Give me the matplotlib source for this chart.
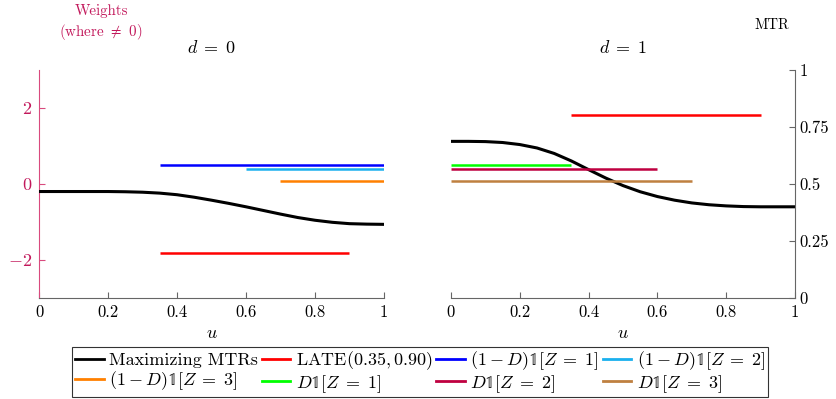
import matplotlib
matplotlib.use('Agg')
import matplotlib.pyplot as plt

plt.rcParams['font.family'] = 'serif'
plt.rcParams['font.serif'] = ['cmr10', 'DejaVu Serif']
plt.rcParams['mathtext.fontset'] = 'cm'
plt.rcParams['axes.unicode_minus'] = False

# --- data ---
u_grid = [0.0, 0.05, 0.1, 0.15, 0.2, 0.25, 0.3, 0.35, 0.4, 0.45, 0.5,
          0.55, 0.6, 0.65, 0.7, 0.75, 0.8, 0.85, 0.9, 0.95, 1.0]
mtr_d0 = [0.467, 0.467, 0.467, 0.467, 0.467, 0.466, 0.464, 0.460, 0.453, 0.442, 0.429,
          0.415, 0.400, 0.384, 0.368, 0.353, 0.341, 0.332, 0.326, 0.324, 0.323]
mtr_d1 = [0.687, 0.687, 0.686, 0.682, 0.673, 0.658, 0.634, 0.601, 0.563, 0.526, 0.493,
          0.466, 0.445, 0.429, 0.417, 0.409, 0.404, 0.401, 0.400, 0.400, 0.400]

# weight labels / colours (LATE first, then the instruments)
w_labels = [r'LATE$(0.35, 0.90)$', r'$(1-D)\mathbb{1}[Z\;=\;1]$', r'$(1-D)\mathbb{1}[Z\;=\;2]$',
            r'$(1-D)\mathbb{1}[Z\;=\;3]$', r'$D\mathbb{1}[Z\;=\;1]$', r'$D\mathbb{1}[Z\;=\;2]$',
            r'$D\mathbb{1}[Z\;=\;3]$']
w_colors = ['#ff0000', '#0000ff', '#1ab0ee', '#ff8000', '#00ff00', '#bf0040', '#bf8040']
# d = 0 segments (LATE, (1-D)1[Z=1], (1-D)1[Z=2], (1-D)1[Z=3])
w0_start = [0.35, 0.35, 0.60, 0.70]
w0_end = [0.90, 1.00, 1.00, 1.00]
w0_val = [-1.82, 0.49, 0.39, 0.09]
# d = 1 segments (LATE, D1[Z=1], D1[Z=2], D1[Z=3])
w1_start = [0.35, 0.0, 0.0, 0.0]
w1_end = [0.90, 0.35, 0.60, 0.70]
w1_val = [1.82, 0.49, 0.39, 0.09]

crimson = '#c2185b'
spine_pink = '#d94a7e'
gray = '#666666'

fig = plt.figure(figsize=(8.37, 3.99), dpi=100)
W, H = 837, 399
ax0 = fig.add_axes([39 / W, 1 - 298 / H, 345 / W, 228 / H])
ax1 = fig.add_axes([451 / W, 1 - 298 / H, 344 / W, 228 / H])

# twins: MTR scale on left panel, weights scale on right panel
ax0m = ax0.twinx()
ax1w = ax1.twinx()
for a in (ax0, ax1w):
    a.set_ylim(-3, 3)
for a in (ax0m, ax1):
    a.set_ylim(0, 1)

# d = 0
for i in range(4):
    ax0.plot([w0_start[i], w0_end[i]], [w0_val[i], w0_val[i]], color=w_colors[i], lw=1.8,
             solid_capstyle='butt')
ax0m.plot(u_grid, mtr_d0, color='black', lw=2.2)
# d = 1
idx1 = [0, 4, 5, 6]
for k, i in enumerate(idx1):
    ax1w.plot([w1_start[k], w1_end[k]], [w1_val[k], w1_val[k]], color=w_colors[i], lw=1.8,
              solid_capstyle='butt')
ax1.plot(u_grid, mtr_d1, color='black', lw=2.2)

for a in (ax0, ax1):
    a.set_xlim(0, 1)
    a.set_xticks([0, 0.2, 0.4, 0.6, 0.8, 1])
    a.set_xticklabels(['0', '0.2', '0.4', '0.6', '0.8', '1'])
    a.set_xlabel('$u$', fontsize=13, labelpad=4)
    a.tick_params(axis='x', direction='in', length=4, color=gray, labelsize=12, pad=5)
    a.spines['top'].set_visible(False)
    a.spines['bottom'].set_color(gray)

# left panel spines
ax0.spines['right'].set_visible(False)
ax0.spines['left'].set_color(spine_pink)
ax0.set_yticks([-2, 0, 2])
ax0.set_yticklabels([r'$-2$', r'$0$', r'$2$'])
ax0.tick_params(axis='y', direction='in', length=4, color=spine_pink, labelcolor=crimson,
                labelsize=13, pad=5)
for s in ax0m.spines.values():
    s.set_visible(False)
ax0m.set_yticks([])

# right panel: MTR axis on the right
ax1.spines['left'].set_visible(False)
ax1.spines['right'].set_visible(True)
ax1.spines['right'].set_color(gray)
ax1.yaxis.tick_right()
ax1.set_yticks([0, 0.25, 0.5, 0.75, 1])
ax1.set_yticklabels(['0', '0.25', '0.5', '0.75', '1'])
ax1.tick_params(axis='y', direction='in', length=4, color=gray, labelsize=12, pad=3)
for s in ax1w.spines.values():
    s.set_visible(False)
ax1w.set_yticks([])

ax0.set_title(r'$d\;=\;0$', fontsize=13, pad=12)
ax1.set_title(r'$d\;=\;1$', fontsize=13, pad=12)

fig.text(101 / W, 1 - 23 / H, 'Weights\n(where $\\neq$ 0)', color=crimson, fontsize=10.8,
         ha='center', va='center', linespacing=1.25)
fig.text(772 / W, 1 - 25 / H, 'MTR', fontsize=10.5, ha='center', va='center')

# legend, filled row by row like the original
leg_handles = [plt.Line2D([], [], color='black', lw=2)]
leg_handles += [plt.Line2D([], [], color=c, lw=2) for c in w_colors]
leg_labels = ['Maximizing MTRs'] + w_labels
order = [0, 4, 1, 5, 2, 6, 3, 7]
leg = fig.legend([leg_handles[i] for i in order], [leg_labels[i] for i in order],
                 loc='center', bbox_to_anchor=(420 / W, 1 - 372 / H),
                 ncol=4, fontsize=13, frameon=True, fancybox=False, edgecolor='black',
                 handlelength=1.6, handletextpad=0.3, columnspacing=0.2, borderpad=0.15,
                 labelspacing=0.05, borderaxespad=0)
leg.get_frame().set_linewidth(0.8)

fig.savefig('out.png', dpi=100)
